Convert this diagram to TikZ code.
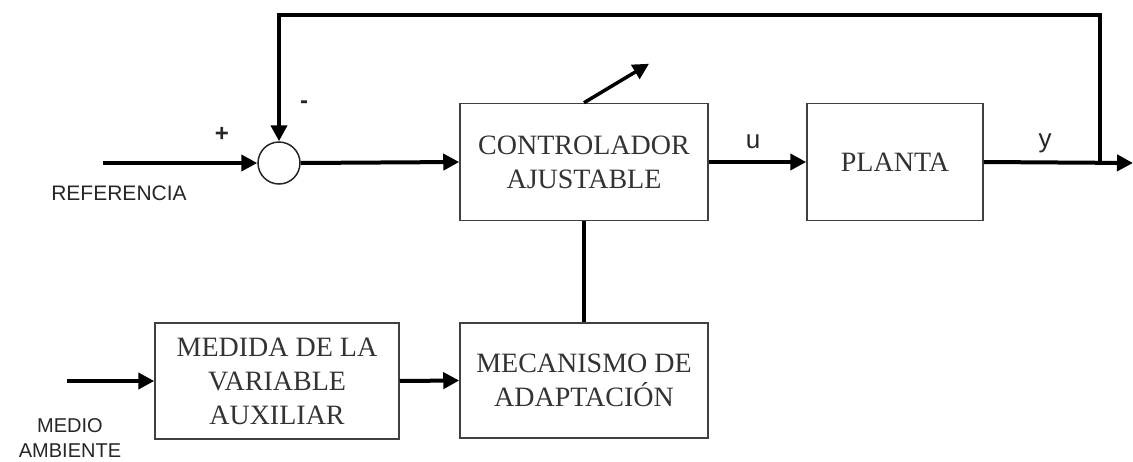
\documentclass[tikz,border=0pt]{standalone}
\usepackage{fontspec}
\setmainfont{Liberation Serif}
\newfontfamily\arial{Liberation Sans}
\usetikzlibrary{arrows.meta}

\begin{document}
\begin{tikzpicture}[
      x=1pt, y=-1pt,
      every node/.style={inner sep=0pt},
      bloque/.style={draw=black!75, line width=1.5pt, align=center,
                     text=black!80, font=\fontsize{28}{34}\selectfont},
      suma/.style={draw=black!85, line width=1.5pt, circle, minimum size=42pt},
      etiq/.style={font=\arial\fontsize{21}{25}\selectfont, text=black!85},
      senal/.style={font=\arial\fontsize{26}{30}\selectfont, text=black!85},
      signo/.style={font=\arial\bfseries\fontsize{24}{26}\selectfont, text=black!85},
      flujo/.style={-{Triangle[length=16pt,width=16pt]}, line width=4pt},
      union/.style={line width=4pt}
    ]
    \useasboundingbox (0,0) rectangle (1133,461);

    % Bloques
    \node[bloque, minimum width=248pt, minimum height=117pt] (ctrl)   at (584,162)   {CONTROLADOR\\AJUSTABLE};
    \node[bloque, minimum width=176pt, minimum height=117pt] (planta) at (895,162)   {PLANTA};
    \node[bloque, minimum width=244pt, minimum height=116pt] (medida) at (277,381)   {MEDIDA DE LA\\VARIABLE\\AUXILIAR};
    \node[bloque, minimum width=248pt, minimum height=115pt] (meca)   at (584,380.5) {MECANISMO DE\\ADAPTACIÓN};

    % Sumador
    \node[suma] (sum) at (279,163) {};

    % Extremos libres
    \coordinate (ref)    at (103,163);
    \coordinate (salida) at (1133,163);
    \coordinate (rama)   at (1100,163);
    \coordinate (amb)    at (67,381);

    % Rótulos
    \node[etiq, anchor=base] (lref) at (119,200) {REFERENCIA};
    \node[etiq, align=center, font=\arial\fontsize{20}{25}\selectfont] (lamb) at (70,438.5) {MEDIO\\AMBIENTE};
    \node[signo] (mas)   at (222,134) {+};
    \node[signo] (menos) at (304,105) {-};
    \node[senal, anchor=base] (lu) at (753,148) {u};
    \node[senal, anchor=base] (ly) at (1045,147) {y};

    % Flujos
    \draw[flujo] (ref) -- (sum.west);
    \draw[flujo] (sum.east) -- (ctrl.west);
    \draw[flujo] (ctrl.east) -- (planta.west);
    \draw[flujo] (planta.east) -- (salida);
    \draw[flujo] (rama) -- ++(0,-148) -| (sum.north);
    \draw[union] (ctrl.south) -- (meca.north);
    \draw[flujo] (amb) -- (medida.west);
    \draw[flujo] (medida.east) -- (meca.west);

    % Ajuste del controlador
    \draw[flujo, line width=3.5pt] (ctrl.north) -- ++(65,-39);
  \end{tikzpicture}
\end{document}
